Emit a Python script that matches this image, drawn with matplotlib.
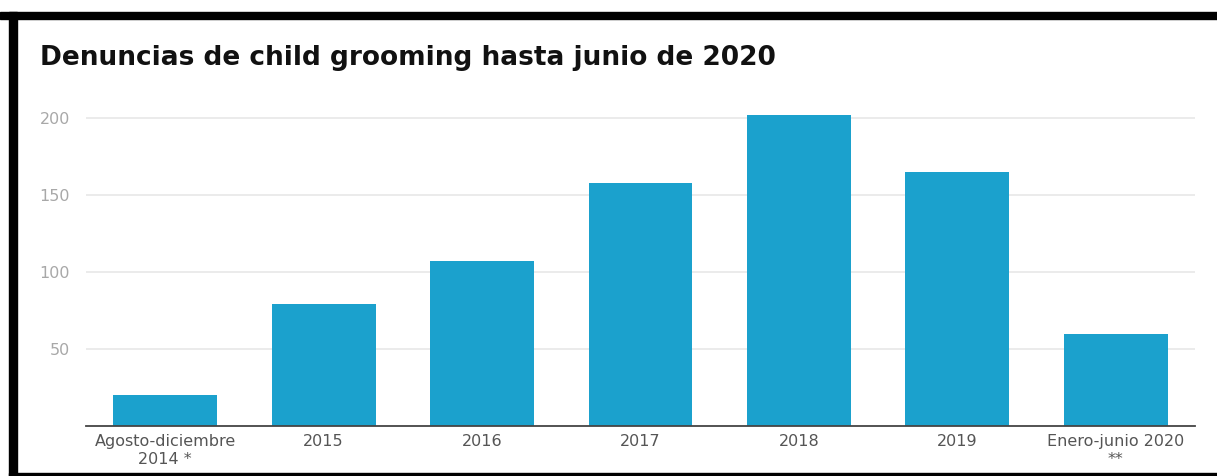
import matplotlib.pyplot as plt
from matplotlib.patches import Rectangle

plt.rcParams['font.family'] = ['DejaVu Sans']

# Denuncias registradas por periodo
periodos = ["Agosto-diciembre\n2014 *", "2015", "2016", "2017", "2018", "2019",
            "Enero-junio 2020\n**"]
denuncias = [20, 79, 107, 158, 202, 165, 60]
yticks = [50, 100, 150, 200]

W, H = 1217, 476
fig = plt.figure(figsize=(W / 100, H / 100), dpi=100)
fig.patch.set_facecolor("white")

# axes placed in pixel units
x0, x1 = 86, 1195
y_top, y_base = 100, 426
ax = fig.add_axes([x0 / W, 1 - y_base / H, (x1 - x0) / W, (y_base - y_top) / H])

ax.bar(range(len(periodos)), denuncias, width=0.656, color="#1ba1cd", zorder=2)
ax.set_xlim(-0.5, len(periodos) - 0.5)
ax.set_ylim(0, (y_base - y_top) / 1.54)

ax.set_yticks(yticks)
ax.set_yticklabels([str(v) for v in yticks], color="#a8a8a8", fontsize=11.5)
ax.tick_params(axis="y", length=0, pad=11.5)
ax.yaxis.grid(True, color="#e8e8e8", linewidth=1.2, zorder=0)

ax.set_xticks(range(len(periodos)))
ax.set_xticklabels(periodos, color="#555555", fontsize=11.5, linespacing=1.2)
ax.tick_params(axis="x", length=0, pad=6)

for side in ("top", "right", "left"):
    ax.spines[side].set_visible(False)
ax.spines["bottom"].set_color("#444444")
ax.spines["bottom"].set_linewidth(1.3)
ax.spines["bottom"].set_zorder(3)

fig.text(40 / W, 1 - 58 / H, "Denuncias de child grooming hasta junio de 2020",
         fontsize=19, fontweight="bold", color="#111111", va="center", ha="left")

# black frame around the capture
fig.add_artist(Rectangle((0, 1 - 19 / H), 1, 7 / H, transform=fig.transFigure,
                         color="black", zorder=10))
fig.add_artist(Rectangle((9 / W, 0), 8 / W, 1 - 12 / H, transform=fig.transFigure,
                         color="black", zorder=10))
fig.add_artist(Rectangle((9 / W, 0), 1 - 9 / W, 3 / H, transform=fig.transFigure,
                         color="black", zorder=10))

fig.savefig("out.png", dpi=100)
